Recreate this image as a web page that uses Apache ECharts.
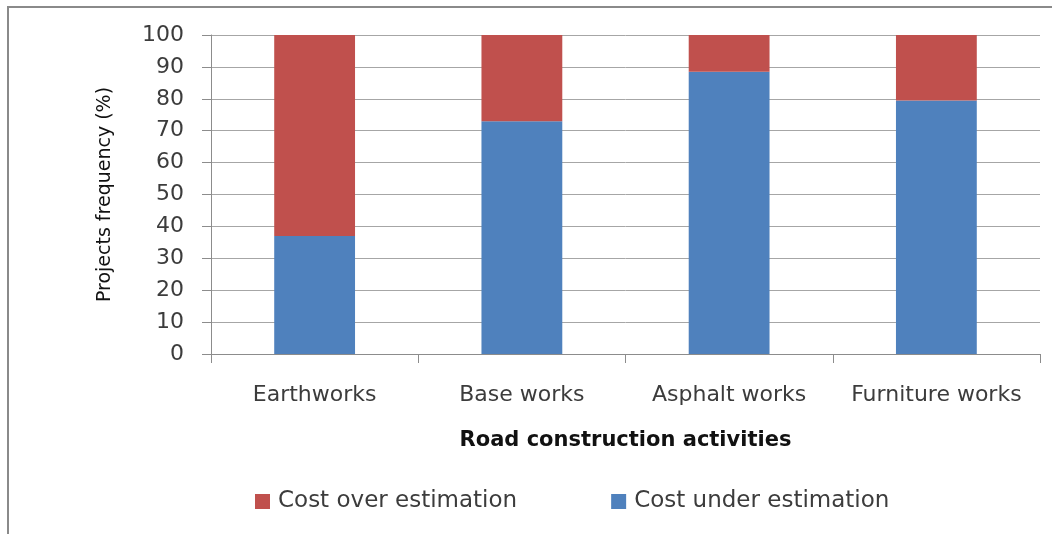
<!DOCTYPE html>
<html>
<head>
<meta charset="utf-8">
<script src="https://cdn.jsdelivr.net/npm/echarts@6/dist/echarts.min.js"></script>
<style>
  html, body { margin: 0; padding: 0; background: #ffffff; }
  #chart { width: 1052px; height: 534px; }
</style>
</head>
<body>
<div id="chart"></div>
<script>
// Road construction activities and share of projects by estimation outcome
const categories = ['Earthworks', 'Base works', 'Asphalt works', 'Furniture works'];
const costUnder = [37, 73, 88.5, 79.5];
const costOver = [63, 27, 11.5, 20.5];
const yTicks = { min: 0, max: 100, interval: 10 };

const FONT = 'DejaVu Sans';
const TEXT = '#3c3c3c';
const RED = '#C0504D';
const BLUE = '#4F81BD';
const FRAME = '#8a8a8a';

const chart = echarts.init(document.getElementById('chart'));
chart.setOption({
  backgroundColor: '#ffffff',
  animation: false,
  graphic: [
    {
      type: 'line',
      shape: { x1: 8, y1: 7, x2: 8, y2: 534 },
      style: { stroke: FRAME, lineWidth: 2 },
      z: -10
    },
    {
      type: 'line',
      shape: { x1: 7, y1: 7, x2: 1052, y2: 7 },
      style: { stroke: FRAME, lineWidth: 2 },
      z: -10
    }
  ],
  grid: { left: 211, right: 12, top: 35, bottom: 180 },
  legend: {
    left: 255, top: 490, padding: 0,
    itemWidth: 15, itemHeight: 15, itemGap: 94,
    icon: 'rect',
    textStyle: { fontFamily: FONT, fontSize: 23, color: TEXT, padding: [0, 0, 0, 3] },
    data: ['Cost over estimation', 'Cost under estimation']
  },
  xAxis: {
    type: 'category',
    data: categories,
    name: 'Road construction activities',
    nameLocation: 'middle',
    nameGap: 76,
    nameTextStyle: { fontFamily: FONT, fontSize: 21, fontWeight: 'bold', color: '#111' },
    axisLine: { lineStyle: { color: '#8c8c8c', width: 1 } },
    axisTick: { show: true, interval: 0, length: 9, lineStyle: { color: '#8c8c8c' } },
    axisLabel: { interval: 0, fontFamily: FONT, fontSize: 22, color: TEXT, margin: 30 }
  },
  yAxis: {
    type: 'value',
    min: yTicks.min, max: yTicks.max, interval: yTicks.interval,
    name: 'Projects frequency (%)',
    nameLocation: 'middle',
    nameGap: 96,
    nameTextStyle: { fontFamily: FONT, fontSize: 19, color: '#111' },
    axisLine: { show: true, lineStyle: { color: '#8c8c8c', width: 1 } },
    axisTick: { show: true, length: 9, lineStyle: { color: '#8c8c8c' } },
    axisLabel: { fontFamily: FONT, fontSize: 22, color: TEXT, margin: 27 },
    splitLine: { lineStyle: { color: '#a6a6a6', width: 1 } }
  },
  series: [
    {
      name: 'Cost under estimation',
      type: 'bar',
      stack: 'total',
      data: costUnder,
      barWidth: '39%',
      itemStyle: { color: BLUE }
    },
    {
      name: 'Cost over estimation',
      type: 'bar',
      stack: 'total',
      data: costOver,
      barWidth: '39%',
      itemStyle: { color: RED }
    }
  ]
});
</script>
</body>
</html>
